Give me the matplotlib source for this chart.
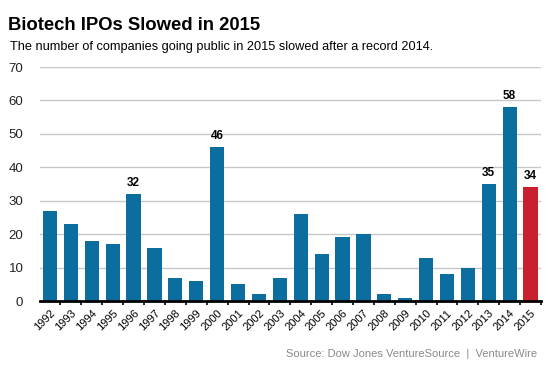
import matplotlib
matplotlib.use("Agg")
import matplotlib.pyplot as plt
from matplotlib.ticker import FixedLocator

plt.rcParams['font.family'] = ['Liberation Sans', 'DejaVu Sans']

# data
years = ['1992', '1993', '1994', '1995', '1996', '1997', '1998', '1999', '2000', '2001', '2002', '2003',
         '2004', '2005', '2006', '2007', '2008', '2009', '2010', '2011', '2012', '2013', '2014', '2015']
ipos = [27, 23, 18, 17, 32, 16, 7, 6, 46, 5, 2, 7, 26, 14, 19, 20, 2, 1, 13, 8, 10, 35, 58, 34]
labelled = ['1996', '2000', '2013', '2014', '2015']
y_ticks = [0, 10, 20, 30, 40, 50, 60, 70]

blue = '#0b6e9f'
red = '#c8202f'

fig = plt.figure(figsize=(5.53, 3.69), dpi=100)
ax = fig.add_axes([40 / 553, 1 - 301 / 369, 501 / 553, 234 / 369])

x = list(range(len(years)))
colors = [red if y == '2015' else blue for y in years]
ax.bar(x, ipos, width=0.68, color=colors, zorder=3)

# value labels on selected bars
for i, (y, v) in enumerate(zip(years, ipos)):
    if y in labelled:
        ax.text(i, v + 1.6, str(v), ha='center', va='bottom', fontsize=8.5, fontweight='bold',
                zorder=4)

ax.set_ylim(0, 70)
ax.set_xlim(-0.48, len(years) - 0.5)
ax.set_yticks(y_ticks)
ax.yaxis.grid(True, color='#c8c8c8', linewidth=1.0, zorder=0)
ax.tick_params(axis='y', length=0, labelsize=9.5, pad=12, labelcolor='#222222')

ax.set_xticks(x)
ax.set_xticklabels(years, rotation=45, ha='right', rotation_mode='anchor', fontsize=8)
ax.tick_params(axis='x', length=0, pad=5)
ax.xaxis.set_minor_locator(FixedLocator([i - 0.5 for i in range(len(years) + 1)]))
ax.tick_params(axis='x', which='minor', length=3, width=1.2, color='black', direction='out')

for s in ['top', 'right', 'left']:
    ax.spines[s].set_visible(False)
ax.spines['bottom'].set_linewidth(2)
ax.spines['bottom'].set_zorder(5)

fig.text(8 / 553, 1 - 30 / 369, 'Biotech IPOs Slowed in 2015', fontsize=13.3, fontweight='bold', va='baseline')
fig.text(10 / 553, 1 - 50 / 369, 'The number of companies going public in 2015 slowed after a record 2014.',
         fontsize=9.2, va='baseline')
fig.text(537 / 553, 1 - 357 / 369, 'Source: Dow Jones VentureSource  |  VentureWire', fontsize=8.0,
         color='#8a8a8a', ha='right', va='baseline')

fig.savefig('out.png', dpi=100)
